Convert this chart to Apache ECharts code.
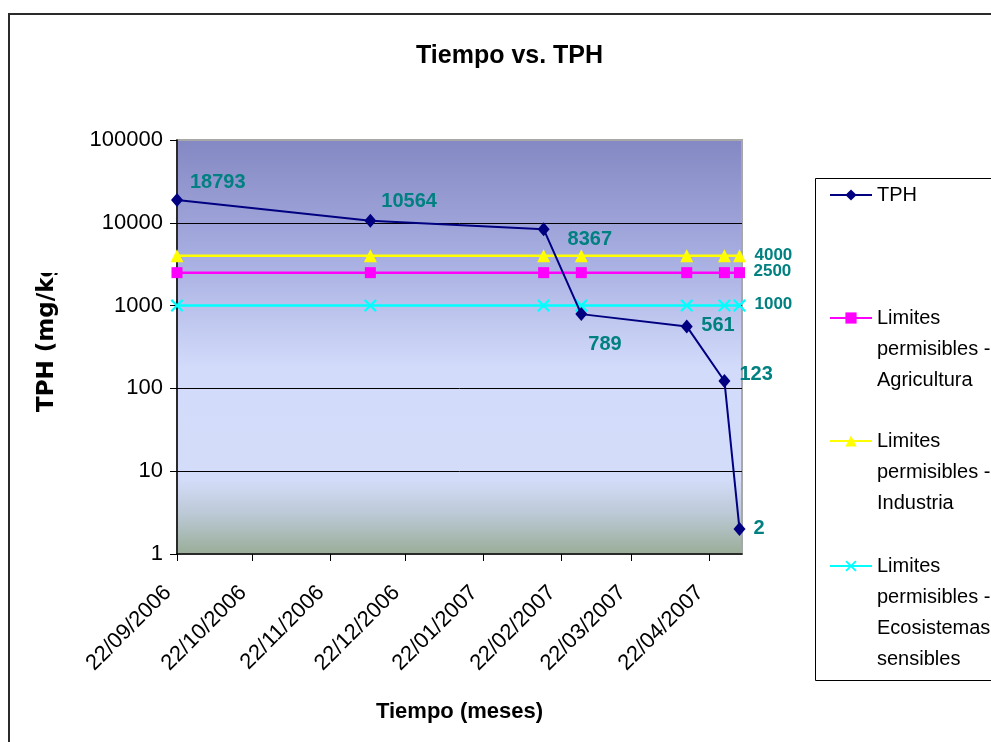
<!DOCTYPE html>
<html><head><meta charset="utf-8">
<script src="https://cdn.jsdelivr.net/npm/echarts@6/dist/echarts.min.js"></script>
<style>html,body{margin:0;padding:0;background:#fff}#c{width:991px;height:742px}</style>
</head><body><div id="c"></div>
<script>
// ---- data ----
const sampleDates = ['22/09/2006','08/12/2006','15/02/2007','02/03/2007','13/04/2007','28/04/2007','04/05/2007'];
const tphValues = [18793, 10564, 8367, 789, 561, 123, 2];
const agriculturaValues = [2500, 2500, 2500, 2500, 2500, 2500, 2500];
const industriaValues = [4000, 4000, 4000, 4000, 4000, 4000, 4000];
const ecosistemasValues = [1000, 1000, 1000, 1000, 1000, 1000, 1000];
const tickDates = ['22/09/2006','22/10/2006','22/11/2006','22/12/2006','22/01/2007','22/02/2007','22/03/2007','22/04/2007'];
const axisMinDate = '22/09/2006';
const axisMaxDate = '05/05/2007';
const seriesNames = ['TPH','Limites permisibles - Agricultura','Limites permisibles - Industria','Limites permisibles - Ecosistemas sensibles'];
const legendLines = [['TPH'],['Limites','permisibles -','Agricultura'],['Limites','permisibles -','Industria'],['Limites','permisibles -','Ecosistemas','sensibles']];
const yAxisTitle = 'TPH (mg/kg)';
const xAxisTitle = 'Tiempo (meses)';
const chartTitle = 'Tiempo vs. TPH';

// ---- layout / style ----
const tphLabelOffsets = [[13,-17.5],[11,-19.5],[24,10],[7,30],[14.5,-1],[15,-6],[14,-1]];
const limitLabelOffsets = [[14.5,-1.5],[14.5,0],[14.5,-1]]; // agricultura, industria, ecosistemas
const legendIconY = [195, 318, 441, 566];
const legendLineHeight = 31;

function parseDate(s){ const p = s.split('/'); return Date.UTC(+p[2], +p[1]-1, +p[0]); }
function fmtDate(t){ const d = new Date(t); const pad = n => (n<10?'0':'')+n; return pad(d.getUTCDate())+'/'+pad(d.getUTCMonth()+1)+'/'+d.getUTCFullYear(); }

const FONT = 'Liberation Sans';
const LABEL_COLOR = '#008080';
const SYM = 12;

const tphData = sampleDates.map((d,i)=>({
  value:[parseDate(d), tphValues[i]],
  label:{show:true, position:'right', distance:0, offset:[tphLabelOffsets[i][0]-SYM/2, tphLabelOffsets[i][1]]}
}));
function limitData(vals, off){
  return sampleDates.map((d,i)=>{
    const o = {value:[parseDate(d), vals[i]]};
    if(i===sampleDates.length-1){
      o.label = {show:true, position:'right', distance:0, offset:[off[0]-SYM/2, off[1]]};
    }
    return o;
  });
}

const xPath = 'path://M0,1.2L1.2,0L10,8.8L8.8,10Z M8.8,0L10,1.2L1.2,10L0,8.8Z';

// each legend entry: leading blank lines so the first text line sits level with the icon
const legends = seriesNames.map((name,i)=>{
  const n = legendLines[i].length;
  const total = 2*n - 1;
  const h = total*legendLineHeight;
  const txt = '\n'.repeat(n-1) + legendLines[i].join('\n');
  return {
    data:[name], orient:'vertical', left:824, top: legendIconY[i] - h/2 - 5,
    itemWidth:42, itemHeight:14, selectedMode:false,
    formatter: () => txt,
    textStyle:{fontFamily:FONT, fontSize:20, color:'#000', lineHeight:legendLineHeight}
  };
});

const chart = echarts.init(document.getElementById('c'), null, {renderer:'canvas'});
chart.setOption({
  animation:false,
  backgroundColor:'#fff',
  title:{text:chartTitle, left:416, top:44, padding:0,
    textStyle:{fontFamily:FONT, fontSize:25, fontWeight:'bold', color:'#000'}},
  legend: legends,
  graphic:[
    {type:'rect', shape:{x:9, y:14, width:1100, height:1000}, style:{fill:'none', stroke:'#2b2b2b', lineWidth:2}, silent:true, z:-10},
    {type:'rect', shape:{x:815.5, y:178.5, width:300, height:502}, style:{fill:'#fff', stroke:'#000', lineWidth:1}, silent:true, z:-5},
    {type:'text', x:47, y:412, rotation:Math.PI/2, silent:true, z:10,
      style:{text:yAxisTitle, fontFamily:'DejaVu Sans', fontSize:23, fontWeight:'bold', fill:'#000', align:'left', verticalAlign:'middle'}},
    {type:'rect', shape:{x:24, y:230, width:50, height:43}, style:{fill:'#fff'}, silent:true, z:11}
  ],
  grid:{left:177, top:140, width:565, height:414, show:true,
    borderColor:'#a8a8a8', borderWidth:2,
    backgroundColor:{type:'linear', x:0, y:0, x2:0, y2:1, colorStops:[
      {offset:0, color:'#8488c3'},
      {offset:0.3, color:'#a9b0e2'},
      {offset:0.55, color:'#d2dbfa'},
      {offset:0.82, color:'#d3dcf8'},
      {offset:0.9, color:'#bcc9d6'},
      {offset:1, color:'#99ad97'}]}},
  xAxis:{type:'value', min:parseDate(axisMinDate), max:parseDate(axisMaxDate), scale:true,
    name:xAxisTitle, nameLocation:'middle', nameGap:147,
    nameTextStyle:{fontFamily:FONT, fontSize:22, fontWeight:'bold', color:'#000'},
    axisLine:{show:true, lineStyle:{color:'#000', width:1.5}},
    axisTick:{show:true, inside:false, length:7, lineStyle:{color:'#000', width:1}, customValues: tickDates.map(parseDate)},
    axisLabel:{show:true, rotate:45, margin:26, padding:[0,13,0,0], fontFamily:FONT, fontSize:22, color:'#000',
      customValues: tickDates.map(parseDate), formatter: v => fmtDate(v)},
    splitLine:{show:false}},
  yAxis:{type:'log', logBase:10, min:1, max:100000,
    axisLine:{show:true, lineStyle:{color:'#000', width:1.5}},
    axisTick:{show:true, inside:false, length:7, lineStyle:{color:'#000'}},
    axisLabel:{fontFamily:FONT, fontSize:22, color:'#000', margin:14, formatter: v => String(Math.round(v))},
    splitLine:{show:true, showMinLine:false, showMaxLine:false, lineStyle:{color:'#000', width:1}}},
  series:[
    {name:seriesNames[1], type:'line', data:limitData(agriculturaValues, limitLabelOffsets[0]), symbol:'rect', symbolSize:11,
      lineStyle:{color:'#ff00ff', width:2.5}, itemStyle:{color:'#ff00ff'}, z:2,
      label:{show:false, fontFamily:FONT, fontSize:17, fontWeight:'bold', color:LABEL_COLOR, formatter: p => p.value[1]}},
    {name:seriesNames[2], type:'line', data:limitData(industriaValues, limitLabelOffsets[1]), symbol:'triangle', symbolSize:13,
      lineStyle:{color:'#ffff00', width:2.5}, itemStyle:{color:'#ffff00'}, z:2,
      label:{show:false, fontFamily:FONT, fontSize:17, fontWeight:'bold', color:LABEL_COLOR, formatter: p => p.value[1]}},
    {name:seriesNames[3], type:'line', data:limitData(ecosistemasValues, limitLabelOffsets[2]), symbol:xPath, symbolSize:13,
      lineStyle:{color:'#00ffff', width:2.5}, itemStyle:{color:'#00ffff'}, z:2,
      label:{show:false, fontFamily:FONT, fontSize:17, fontWeight:'bold', color:LABEL_COLOR, formatter: p => p.value[1]}},
    {name:seriesNames[0], type:'line', data:tphData, symbol:'diamond', symbolSize:[12,14],
      lineStyle:{color:'#000080', width:2}, itemStyle:{color:'#000080'}, z:3,
      label:{fontFamily:FONT, fontSize:20, fontWeight:'bold', color:LABEL_COLOR, formatter: p => p.value[1]}}
  ]
});
</script></body></html>
